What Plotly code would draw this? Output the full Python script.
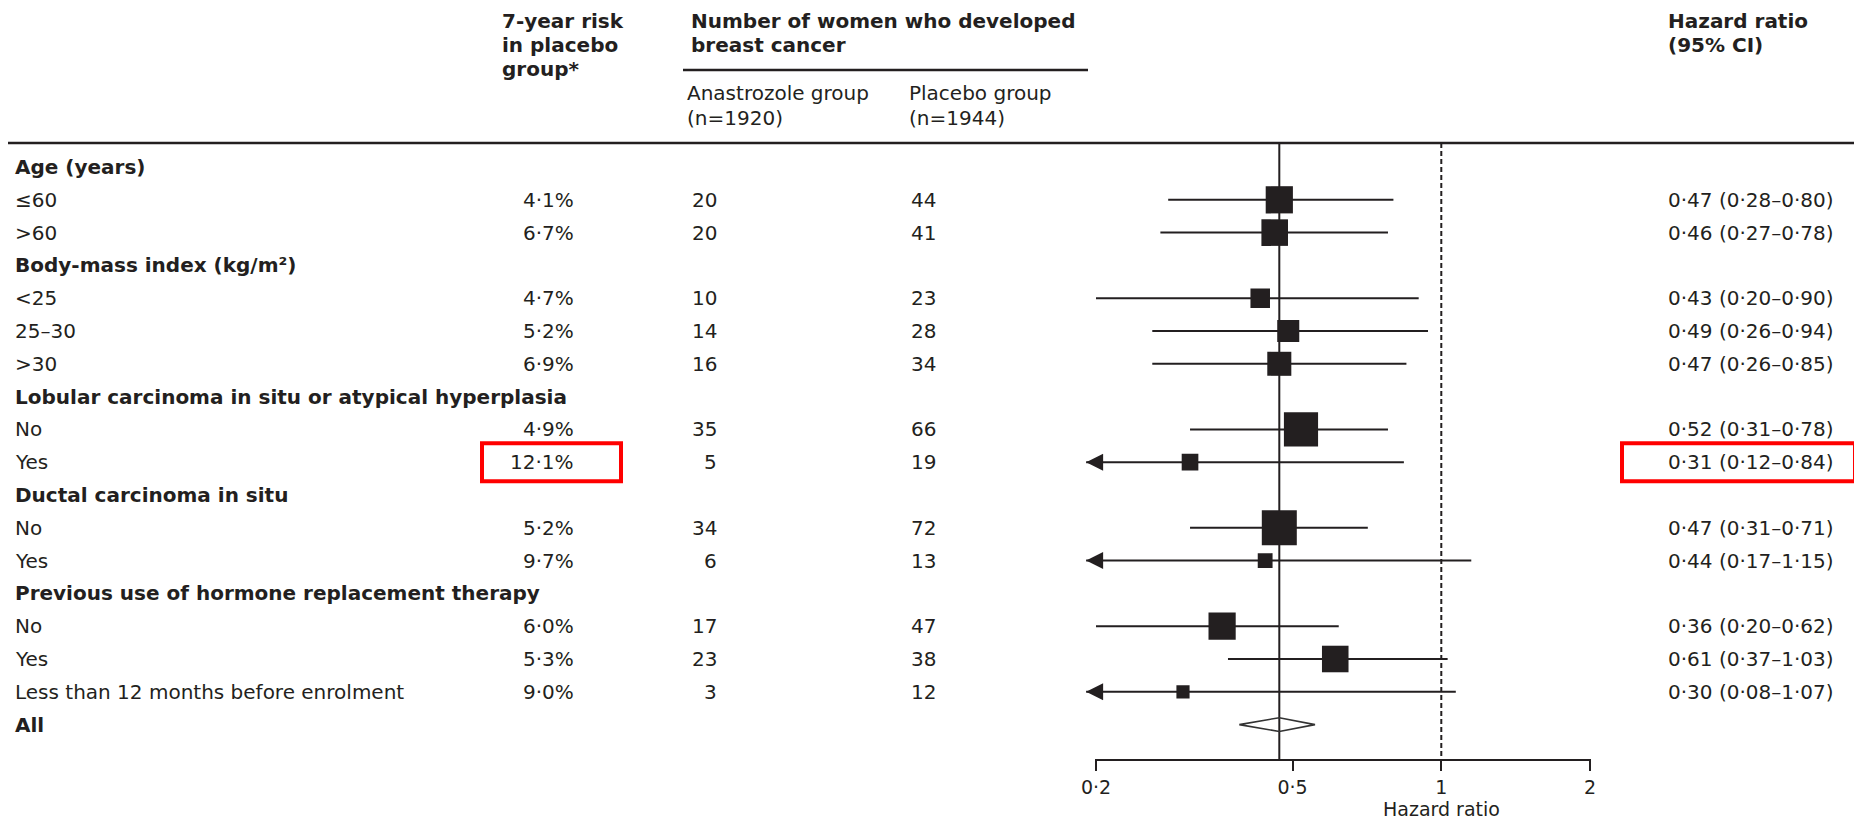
import math
import plotly.graph_objects as go

W, H = 1854, 820
FONT = "DejaVu Sans"
INK = "#231f20"

# ---- data -------------------------------------------------------------
labels = [
    "Age (years)", "≤60", ">60",
    "Body-mass index (kg/m²)", "<25", "25–30", ">30",
    "Lobular carcinoma in situ or atypical hyperplasia", "No", "Yes",
    "Ductal carcinoma in situ", "No", "Yes",
    "Previous use of hormone replacement therapy", "No", "Yes",
    "Less than 12 months before enrolment",
    "All",
]
is_heading = [True, False, False, True, False, False, False, True, False, False,
              True, False, False, True, False, False, False, True]
risk_placebo_pct = [None, 4.1, 6.7, None, 4.7, 5.2, 6.9, None, 4.9, 12.1,
                    None, 5.2, 9.7, None, 6.0, 5.3, 9.0, None]
anastrozole_cases = [None, 20, 20, None, 10, 14, 16, None, 35, 5,
                     None, 34, 6, None, 17, 23, 3, None]
placebo_cases = [None, 44, 41, None, 23, 28, 34, None, 66, 19,
                 None, 72, 13, None, 47, 38, 12, None]
hazard_ratio = [None, 0.47, 0.46, None, 0.43, 0.49, 0.47, None, 0.52, 0.31,
                None, 0.47, 0.44, None, 0.36, 0.61, 0.30, None]
ci_low = [None, 0.28, 0.27, None, 0.20, 0.26, 0.26, None, 0.31, 0.12,
          None, 0.31, 0.17, None, 0.20, 0.37, 0.08, None]
ci_high = [None, 0.80, 0.78, None, 0.90, 0.94, 0.85, None, 0.78, 0.84,
           None, 0.71, 1.15, None, 0.62, 1.03, 1.07, None]

overall_hr = 0.47
overall_low = 0.39
overall_high = 0.555

x_ticks = [0.2, 0.5, 1, 2]
highlighted_row = 9

# ---- geometry ---------------------------------------------------------
AXIS_MIN, AXIS_MAX = 0.2, 2.0
ARROW_TIP = 0.191          # where truncated intervals end (just left of 0.2)
VIEW_MIN = 0.185           # data range starts a little left of the axis line
AX_LEFT_PX, AX_RIGHT_PX = 1096, 1590
PX_PER_DECADE = (AX_RIGHT_PX - AX_LEFT_PX) / math.log10(AXIS_MAX / AXIS_MIN)
DOMAIN_LEFT_PX = AX_LEFT_PX - PX_PER_DECADE * math.log10(AXIS_MIN / VIEW_MIN)

ROW_TOP_PX, ROW_STEP, AXIS_PX = 167, 32.8, 760
Y_MAX = ROW_TOP_PX / ROW_STEP
Y_MIN = Y_MAX - AXIS_PX / ROW_STEP
RULE_Y = Y_MAX - 143 / ROW_STEP


def dot(v, nd):
    return f"{v:.{nd}f}".replace(".", "·")


def px(x):
    return x / W


def py(y):
    return 1 - y / H


rows = [-i for i in range(len(labels))]

fig = go.Figure()

# reference lines: overall estimate (solid) and no effect (dashed)
fig.add_trace(go.Scatter(x=[overall_hr, overall_hr], y=[RULE_Y, Y_MIN], mode="lines",
                         line=dict(color=INK, width=2), hoverinfo="skip"))
fig.add_trace(go.Scatter(x=[1, 1], y=[RULE_Y, Y_MIN], mode="lines",
                         line=dict(color=INK, width=2, dash="5px,3px"), hoverinfo="skip"))

# confidence intervals
lx, ly = [], []
arrow_y = []
for r, lo, hi in zip(rows, ci_low, ci_high):
    if lo is None:
        continue
    start = lo if lo >= AXIS_MIN else ARROW_TIP
    if lo < AXIS_MIN:
        arrow_y.append(r)
    lx += [start, hi, None]
    ly += [r, r, None]
fig.add_trace(go.Scatter(x=lx, y=ly, mode="lines", line=dict(color=INK, width=2),
                         hoverinfo="skip"))

# point estimates, box area proportional to number of events
sq_x, sq_y, sq_s = [], [], []
for r, h, a, p in zip(rows, hazard_ratio, anastrozole_cases, placebo_cases):
    if h is None:
        continue
    sq_x.append(h)
    sq_y.append(r)
    sq_s.append(3.4 * math.sqrt(a + p))
fig.add_trace(go.Scatter(x=sq_x, y=sq_y, mode="markers",
                         marker=dict(symbol="square", size=sq_s, color=INK, opacity=1,
                                     line=dict(width=0)),
                         hoverinfo="skip"))

# arrows for intervals running past the axis
fig.add_trace(go.Scatter(x=[ARROW_TIP] * len(arrow_y), y=arrow_y, mode="markers",
                         marker=dict(symbol="arrow-left", size=17, color=INK, opacity=1,
                                     line=dict(width=0)),
                         hoverinfo="skip"))

# overall diamond
r_all = rows[-1]
dh = 0.21
fig.add_trace(go.Scatter(
    x=[overall_low, overall_hr, overall_high, overall_hr, overall_low],
    y=[r_all, r_all + dh, r_all, r_all - dh, r_all],
    mode="lines", line=dict(color="#333333", width=1.6), hoverinfo="skip"))

# ---- table text -------------------------------------------------------
ann = []


def text_at(x, y, s, xanchor="left", bold=False, xref="paper", yref="paper",
            size=20, pad=1):
    ann.append(dict(x=x, y=y, xref=xref, yref=yref, text=s, showarrow=False,
                    xanchor=xanchor, yanchor="middle", borderpad=pad,
                    font=dict(family=FONT, size=size, color=INK,
                              weight="bold" if bold else "normal")))


for i, r in enumerate(rows):
    text_at(px(13), r, labels[i], bold=is_heading[i], yref="y")
    if risk_placebo_pct[i] is not None:
        text_at(px(576), r, dot(risk_placebo_pct[i], 1) + "%", xanchor="right", yref="y")
        text_at(px(719), r, str(anastrozole_cases[i]), xanchor="right", yref="y")
        text_at(px(938), r, str(placebo_cases[i]), xanchor="right", yref="y")
        text_at(px(1666), r, f"{dot(hazard_ratio[i], 2)} ({dot(ci_low[i], 2)}–{dot(ci_high[i], 2)})",
                yref="y")

# column headers
for k, s in enumerate(["7-year risk", "in placebo", "group*"]):
    text_at(px(500), py(21 + 24 * k), s, bold=True)
text_at(px(689), py(21), "Number of women who developed", bold=True)
text_at(px(689), py(45), "breast cancer", bold=True)
text_at(px(685), py(93), "Anastrozole group")
text_at(px(685), py(118), "(n=1920)")
text_at(px(907), py(93), "Placebo group")
text_at(px(907), py(118), "(n=1944)")
text_at(px(1666), py(21), "Hazard ratio", bold=True)
text_at(px(1666), py(45), "(95% CI)", bold=True)

# axis title
text_at(math.log10(1.0), py(808.5), "Hazard ratio", xanchor="center", xref="x",
        size=19, pad=0)

# ---- rules, axis line and highlight boxes ----------------------------
shapes = [
    dict(type="line", xref="paper", yref="paper", x0=px(8), x1=1, y0=py(143), y1=py(143),
         line=dict(color=INK, width=2.5)),
    dict(type="line", xref="paper", yref="paper", x0=px(683), x1=px(1088), y0=py(70), y1=py(70),
         line=dict(color=INK, width=2.5)),
    dict(type="line", xref="paper", yref="paper", x0=px(AX_LEFT_PX - 1), x1=px(AX_RIGHT_PX + 1),
         y0=py(AXIS_PX), y1=py(AXIS_PX), line=dict(color=INK, width=2)),
]
hr_row = rows[highlighted_row]
half = 0.58
for x0, x1 in [(482, 621), (1622, 1855)]:
    shapes.append(dict(type="rect", xref="paper", yref="y", x0=px(x0), x1=px(x1),
                       y0=hr_row + half, y1=hr_row - half,
                       line=dict(color="#ff0000", width=4)))

fig.update_layout(
    width=W, height=H,
    margin=dict(l=0, r=0, t=0, b=0, pad=0, autoexpand=False),
    paper_bgcolor="white", plot_bgcolor="rgba(0,0,0,0)",
    showlegend=False,
    annotations=ann,
    shapes=shapes,
    xaxis=dict(type="log", range=[math.log10(VIEW_MIN), math.log10(AXIS_MAX)],
               domain=[px(DOMAIN_LEFT_PX), px(AX_RIGHT_PX)],
               tickvals=x_ticks, ticktext=[dot(t, 1) if t < 1 else str(t) for t in x_ticks],
               ticks="outside", ticklen=10, tickwidth=2, tickcolor=INK,
               showline=False, showgrid=False, zeroline=False, automargin=False,
               tickfont=dict(family=FONT, size=19, color=INK)),
    yaxis=dict(range=[Y_MIN, Y_MAX], domain=[py(AXIS_PX), 1], visible=False,
               showgrid=False, zeroline=False, automargin=False),
)

fig.write_html("out.html")
